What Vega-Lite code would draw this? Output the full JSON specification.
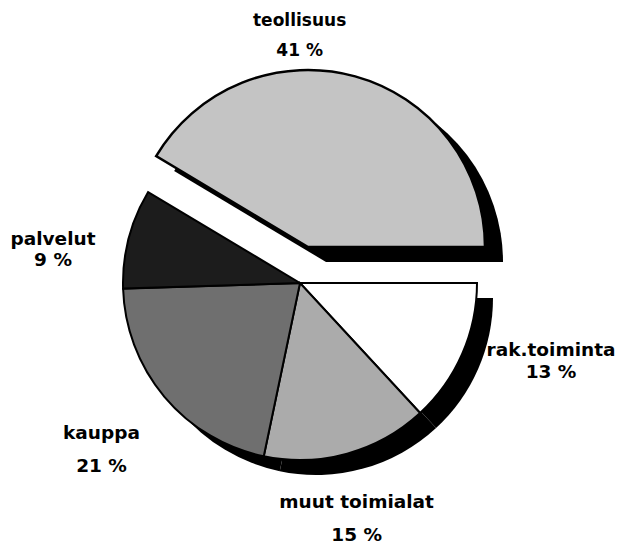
{
  "$schema": "https://vega.github.io/schema/vega-lite/v6.json",
  "width": 600,
  "height": 526,
  "padding": {"left": 0, "top": 20, "right": 33, "bottom": 0},
  "autosize": {"type": "none"},
  "background": "white",
  "config": {"view": {"stroke": null}},
  "data": {
    "values": [
      {"idx": 1, "category": "rak.toiminta", "value": 13},
      {"idx": 2, "category": "muut toimialat", "value": 15},
      {"idx": 3, "category": "kauppa", "value": 21},
      {"idx": 4, "category": "palvelut", "value": 9},
      {"idx": 5, "category": "teollisuus", "value": 41}
    ]
  },
  "transform": [
    {"calculate": "datum.category + '\\n' + datum.value + ' %'", "as": "label"}
  ],
  "encoding": {
    "theta": {"field": "value", "type": "quantitative", "stack": true, "scale": {"range": [1.5707963, 7.8539816]}},
    "order": {"field": "idx", "type": "quantitative"},
    "detail": {"field": "category", "type": "nominal"}
  },
  "layer": [
    {
      "mark": {"type": "arc", "outerRadius": 177, "fill": "black", "x": {"expr": "width/2+16"}, "y": {"expr": "height/2+15"}},
      "encoding": {
        "opacity": {"condition": {"test": "datum.category === 'teollisuus'", "value": 0}, "value": 1}
      }
    },
    {
      "mark": {"type": "arc", "outerRadius": 177, "fill": "black", "x": {"expr": "width/2+26"}, "y": {"expr": "height/2-21"}},
      "encoding": {
        "opacity": {"condition": {"test": "datum.category !== 'teollisuus'", "value": 0}, "value": 1}
      }
    },
    {
      "mark": {"type": "arc", "outerRadius": 177, "stroke": "black", "strokeWidth": 2},
      "encoding": {
        "color": {"field": "category", "type": "nominal", "legend": null,
          "scale": {"domain": ["rak.toiminta", "muut toimialat", "kauppa", "palvelut", "teollisuus"],
                    "range": ["#ffffff", "#ababab", "#6f6f6f", "#1c1c1c", "#c4c4c4"]}},
        "opacity": {"condition": {"test": "datum.category === 'teollisuus'", "value": 0}, "value": 1}
      }
    },
    {
      "mark": {"type": "arc", "outerRadius": 177, "stroke": "black", "strokeWidth": 2.5, "x": {"expr": "width/2+8"}, "y": {"expr": "height/2-36"}},
      "encoding": {
        "color": {"field": "category", "type": "nominal", "legend": null},
        "opacity": {"condition": {"test": "datum.category !== 'teollisuus'", "value": 0}, "value": 1}
      }
    },
    {
      "mark": {"type": "text", "radius": 250, "dx": -67, "dy": -21, "font": "DejaVu Sans", "fontWeight": "bold", "fontSize": 17, "lineHeight": 30, "lineBreak": "\n", "baseline": "middle", "align": "center", "color": "black"},
      "encoding": {
        "text": {"field": "label"},
        "opacity": {"condition": {"test": "datum.category !== 'teollisuus'", "value": 0}, "value": 1}
      }
    },
    {
      "mark": {"type": "text", "radius": 250, "dx": 22, "dy": -33, "font": "DejaVu Sans", "fontWeight": "bold", "fontSize": 18.5, "lineHeight": 22, "lineBreak": "\n", "baseline": "middle", "align": "center", "color": "black"},
      "encoding": {
        "text": {"field": "label"},
        "opacity": {"condition": {"test": "datum.category !== 'rak.toiminta'", "value": 0}, "value": 1}
      }
    },
    {
      "mark": {"type": "text", "radius": 250, "dx": -10, "dy": -22, "font": "DejaVu Sans", "fontWeight": "bold", "fontSize": 18.5, "lineHeight": 33, "lineBreak": "\n", "baseline": "middle", "align": "center", "color": "black"},
      "encoding": {
        "text": {"field": "label"},
        "opacity": {"condition": {"test": "datum.category !== 'muut toimialat'", "value": 0}, "value": 1}
      }
    },
    {
      "mark": {"type": "text", "radius": 250, "dx": -7, "dy": -11, "font": "DejaVu Sans", "fontWeight": "bold", "fontSize": 18.5, "lineHeight": 33, "lineBreak": "\n", "baseline": "middle", "align": "center", "color": "black"},
      "encoding": {
        "text": {"field": "label"},
        "opacity": {"condition": {"test": "datum.category !== 'kauppa'", "value": 0}, "value": 1}
      }
    },
    {
      "mark": {"type": "text", "radius": 250, "dx": -5, "dy": 19, "font": "DejaVu Sans", "fontWeight": "bold", "fontSize": 18.5, "lineHeight": 21, "lineBreak": "\n", "baseline": "middle", "align": "center", "color": "black"},
      "encoding": {
        "text": {"field": "label"},
        "opacity": {"condition": {"test": "datum.category !== 'palvelut'", "value": 0}, "value": 1}
      }
    }
  ]
}
